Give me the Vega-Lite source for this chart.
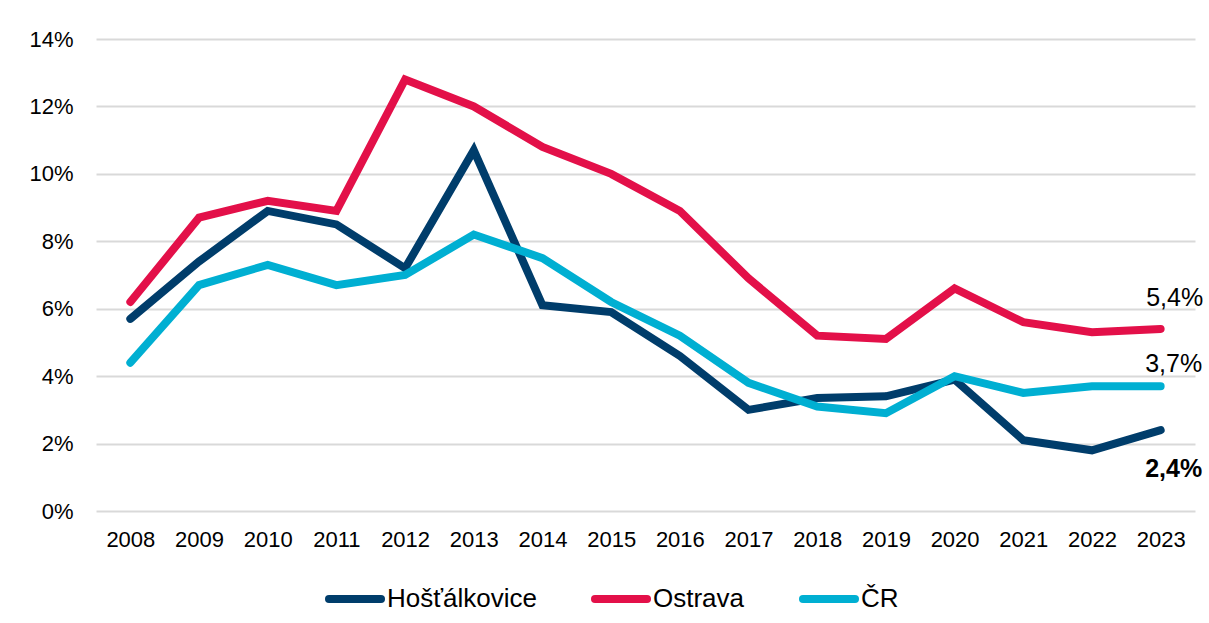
{
  "$schema": "https://vega.github.io/schema/vega-lite/v6.json",
  "width": 1099,
  "height": 472,
  "autosize": "none",
  "padding": {"left": 96, "top": 39, "right": 14, "bottom": 112},
  "background": "white",
  "config": {
    "font": "Liberation Sans",
    "view": {"stroke": null},
    "axis": {"labelFont": "Liberation Sans", "labelColor": "#000000", "labelFontSize": 22, "domain": false, "ticks": false, "title": null}
  },
  "data": {
    "values": [
      {"year": "2008", "series": "Hošťálkovice", "v": 5.7},
      {"year": "2009", "series": "Hošťálkovice", "v": 7.4},
      {"year": "2010", "series": "Hošťálkovice", "v": 8.9},
      {"year": "2011", "series": "Hošťálkovice", "v": 8.5},
      {"year": "2012", "series": "Hošťálkovice", "v": 7.2},
      {"year": "2013", "series": "Hošťálkovice", "v": 10.7},
      {"year": "2014", "series": "Hošťálkovice", "v": 6.1},
      {"year": "2015", "series": "Hošťálkovice", "v": 5.9},
      {"year": "2016", "series": "Hošťálkovice", "v": 4.6},
      {"year": "2017", "series": "Hošťálkovice", "v": 3.0},
      {"year": "2018", "series": "Hošťálkovice", "v": 3.35},
      {"year": "2019", "series": "Hošťálkovice", "v": 3.4},
      {"year": "2020", "series": "Hošťálkovice", "v": 3.9},
      {"year": "2021", "series": "Hošťálkovice", "v": 2.1},
      {"year": "2022", "series": "Hošťálkovice", "v": 1.8},
      {"year": "2023", "series": "Hošťálkovice", "v": 2.4, "label": "2,4%"},
      {"year": "2008", "series": "Ostrava", "v": 6.2},
      {"year": "2009", "series": "Ostrava", "v": 8.7},
      {"year": "2010", "series": "Ostrava", "v": 9.2},
      {"year": "2011", "series": "Ostrava", "v": 8.9},
      {"year": "2012", "series": "Ostrava", "v": 12.8},
      {"year": "2013", "series": "Ostrava", "v": 12.0},
      {"year": "2014", "series": "Ostrava", "v": 10.8},
      {"year": "2015", "series": "Ostrava", "v": 10.0},
      {"year": "2016", "series": "Ostrava", "v": 8.9},
      {"year": "2017", "series": "Ostrava", "v": 6.9},
      {"year": "2018", "series": "Ostrava", "v": 5.2},
      {"year": "2019", "series": "Ostrava", "v": 5.1},
      {"year": "2020", "series": "Ostrava", "v": 6.6},
      {"year": "2021", "series": "Ostrava", "v": 5.6},
      {"year": "2022", "series": "Ostrava", "v": 5.3},
      {"year": "2023", "series": "Ostrava", "v": 5.4, "label": "5,4%"},
      {"year": "2008", "series": "ČR", "v": 4.4},
      {"year": "2009", "series": "ČR", "v": 6.7},
      {"year": "2010", "series": "ČR", "v": 7.3},
      {"year": "2011", "series": "ČR", "v": 6.7},
      {"year": "2012", "series": "ČR", "v": 7.0},
      {"year": "2013", "series": "ČR", "v": 8.2},
      {"year": "2014", "series": "ČR", "v": 7.5},
      {"year": "2015", "series": "ČR", "v": 6.2},
      {"year": "2016", "series": "ČR", "v": 5.2},
      {"year": "2017", "series": "ČR", "v": 3.8},
      {"year": "2018", "series": "ČR", "v": 3.1},
      {"year": "2019", "series": "ČR", "v": 2.9},
      {"year": "2020", "series": "ČR", "v": 4.0},
      {"year": "2021", "series": "ČR", "v": 3.5},
      {"year": "2022", "series": "ČR", "v": 3.7},
      {"year": "2023", "series": "ČR", "v": 3.7, "label": "3,7%"}
    ]
  },
  "encoding": {
    "x": {"field": "year", "type": "ordinal", "scale": {"type": "point", "padding": 0.5},
          "axis": {"labelAngle": 0, "labelPadding": 18, "grid": false}},
    "y": {"field": "v", "type": "quantitative", "scale": {"domain": [0, 14]},
          "axis": {"values": [0, 2, 4, 6, 8, 10, 12, 14], "labelExpr": "datum.value + '%'", "gridColor": "#d9d9d9", "gridWidth": 2, "labelPadding": 23}}
  },
  "layer": [
    {
      "mark": {"type": "line", "strokeWidth": 8, "strokeCap": "round", "strokeJoin": "miter"},
      "encoding": {
        "color": {"field": "series", "type": "nominal",
          "scale": {"domain": ["Hošťálkovice", "Ostrava", "ČR"], "range": ["#003D6B", "#E31049", "#00AFD2"]},
          "legend": {"orient": "none", "legendX": 229, "legendY": 530, "direction": "horizontal", "title": null, "symbolType": "stroke", "symbolStrokeWidth": 8, "symbolSize": 2704, "labelFontSize": 26, "labelFont": "Liberation Sans", "labelColor": "#000000", "columnPadding": 42, "symbolOffset": 0, "labelOffset": 2, "padding": 0,
            "encode": {"symbols": {"update": {"strokeCap": {"value": "round"}}}}}
        }
      }
    },
    {
      "transform": [{"filter": "datum.series == 'Ostrava' && datum.year == '2023'"}],
      "mark": {"type": "text", "fontSize": 25, "dx": 14, "dy": -31, "color": "#000000"},
      "encoding": {"text": {"field": "label"}}
    },
    {
      "transform": [{"filter": "datum.series == 'ČR' && datum.year == '2023'"}],
      "mark": {"type": "text", "fontSize": 25, "dx": 13, "dy": -22, "color": "#000000"},
      "encoding": {"text": {"field": "label"}}
    },
    {
      "transform": [{"filter": "datum.series == 'Hošťálkovice' && datum.year == '2023'"}],
      "mark": {"type": "text", "fontSize": 25, "fontWeight": "bold", "dx": 13, "dy": 39, "color": "#000000"},
      "encoding": {"text": {"field": "label"}}
    }
  ]
}
